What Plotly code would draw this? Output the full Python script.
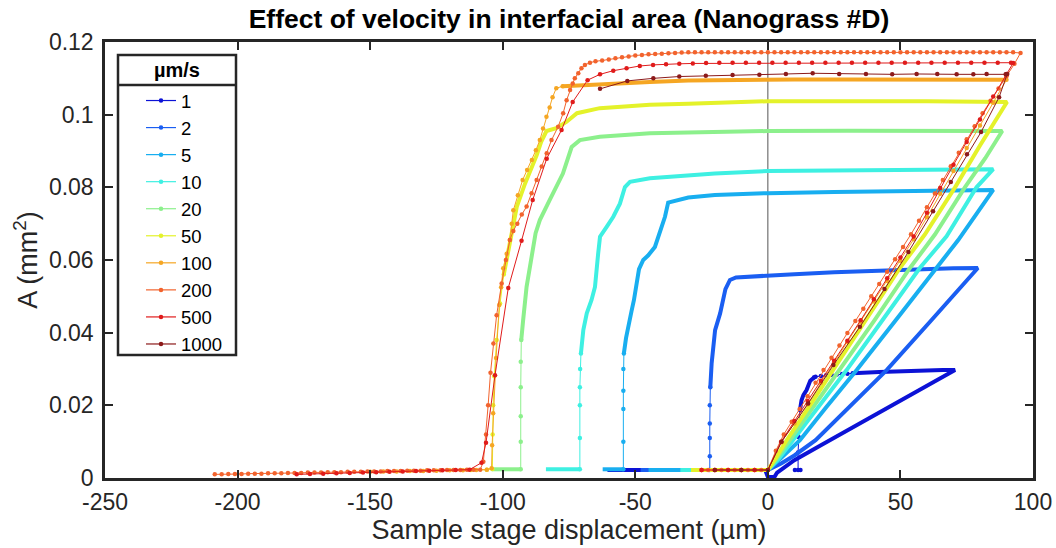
import plotly.graph_objects as go

FONT = "Liberation Sans, Arial, sans-serif"
INK = "#262626"

speed_labels = ["1", "2", "5", "10", "20", "50", "100", "200", "500", "1000"]
colors = ["#0c12d6", "#1a5ef2", "#18aef0", "#3ef0e2", "#8cf08c",
          "#e4f22a", "#f5a623", "#f2632d", "#e01b1b", "#8c1a1a"]

# ---- 1 um/s ----
x1_dense = [-60.5, -45, -30, -15, -1, 0, 2.5, 3.5, 10, 20, 30, 40, 50, 60, 70.6, 66, 58, 50, 42, 34, 32,
            None, 17.5, 16, 14.6, 13.4, 12.7, 12.1]
y1_dense = [0.0022, 0.0022, 0.0022, 0.0022, 0.0022, 0.0003, 0.0003, 0.0015, 0.0049, 0.0090, 0.0131, 0.0172,
            0.0213, 0.0254, 0.0297, 0.0297, 0.0296, 0.0294, 0.0292, 0.0289, 0.0288,
            None, 0.0277, 0.0268, 0.0242, 0.0228, 0.0214, 0.0187]
x1_sparse = [32, 30, 28, 26, 24, 22, 20, 18, 17.5, None, 12.1, 11.6, 11.4, 11.4, 10.2, 12.3]
y1_sparse = [0.0288, 0.0287, 0.0286, 0.0285, 0.0284, 0.0283, 0.0281, 0.0279, 0.0277, None,
             0.0187, 0.0113, 0.0070, 0.0022, 0.0022, 0.0022]

# ---- 2 um/s ----
x2_dense = [-48, -35, -20, -10, 0, 5, 10, 18, 30, 44.8, 62, 79.2, 70, 55, 40, 25, 10, 0, -8, -12,
            -14.3, -16, -18, -19.9, -21.2, -21.7]
y2_dense = [0.0022, 0.0022, 0.0022, 0.0022, 0.0022, 0.0040, 0.0062, 0.0104, 0.0190, 0.0297, 0.0437, 0.0578,
            0.0577, 0.0574, 0.0570, 0.0566, 0.0561, 0.0558, 0.0555, 0.0552,
            0.0545, 0.0520, 0.0453, 0.0407, 0.0316, 0.0250]
x2_sparse = [-21.7, -21.9, -21.9, -21.9, -21.9, -21.9]
y2_sparse = [0.0250, 0.0200, 0.0150, 0.0110, 0.0060, 0.0022]

# ---- 5 um/s ----
x5_dense = [-45, -30, -15, 0, 5, 12.1, 22, 33.5, 48, 63.7, 71.8, 85, 70, 50, 25, 0, -20, -30,
            -34.4, -37.6, -38.8, -40.7, -42.6, -45.1, -47, -48.6, -49.5, -50.5, -51.4, -52.6, -53.5, -54.3,
            None, -54.5, -58, -62.3]
y5_dense = [0.0022, 0.0022, 0.0022, 0.0022, 0.0055, 0.0104, 0.0195, 0.0297, 0.0432, 0.0578, 0.0655, 0.0793,
            0.0792, 0.0790, 0.0787, 0.0784, 0.0779, 0.0772,
            0.0765, 0.0758, 0.0719, 0.0680, 0.0636, 0.0613, 0.0600, 0.0575, 0.0530, 0.0490, 0.0460, 0.0420,
            0.0385, 0.0343, None, 0.0024, 0.0024, 0.0024]
x5_sparse = [-54.3, -54.5, -54.5, -54.5, -54.5, -54.5]
y5_sparse = [0.0343, 0.0300, 0.0240, 0.0190, 0.0100, 0.0024]

# ---- 10 um/s ----
x10_dense = [-33, -20, -10, 0, 4, 9.5, 18, 29.7, 43, 57.3, 67.4, 78.7, 85, 60, 30, 0, -20, -35, -44.5,
             -52, -53.9, -55.8, -58.3, -60.8, -63.3, -64, -65.2, -66.5, -68.3, -69.6, -70.5,
             None, -70.9, -77, -83.7]
y10_dense = [0.0022, 0.0022, 0.0022, 0.0022, 0.0052, 0.0104, 0.0185, 0.0297, 0.0432, 0.0578, 0.0665, 0.0800,
             0.0850, 0.0848, 0.0847, 0.0845, 0.0838, 0.0830, 0.0825,
             0.0815, 0.0801, 0.0755, 0.0719, 0.0691, 0.0664, 0.0618, 0.0526, 0.0490, 0.0453, 0.0407, 0.0343,
             None, 0.0024, 0.0024, 0.0024]
x10_sparse = [-70.5, -70.8, -70.9, -70.9, -70.9, -70.9]
y10_sparse = [0.0343, 0.0300, 0.0250, 0.0200, 0.0110, 0.0024]

# ---- 20 um/s ----
x20_dense = [-28, -15, 0, 3.5, 8.3, 17, 27.2, 40, 53.6, 63, 74.3, 82, 88.4, 60, 30, 0, -20, -44.5, -63.4,
             -70.9, -74, -77.3, -82.3, -86, -87.6, -89.7, -91, -92.3, -93.0,
             None, -93.2, -98, -104.2]
y20_dense = [0.0022, 0.0022, 0.0022, 0.0055, 0.0104, 0.0195, 0.0297, 0.0432, 0.0578, 0.0670, 0.0800, 0.0880,
             0.0955, 0.0956, 0.0956, 0.0955, 0.0953, 0.0949, 0.0939,
             0.0930, 0.0911, 0.0838, 0.0765, 0.0710, 0.0674, 0.0591, 0.0526, 0.0434, 0.0380,
             None, 0.0024, 0.0024, 0.0024]
x20_sparse = [-93.0, -93.2, -93.2, -93.2, -93.2, -93.2]
y20_sparse = [0.0380, 0.0320, 0.0250, 0.0170, 0.0100, 0.0024]

# ---- 50 um/s ----
x50_dense = [-29, -15, 0, 3, 7.1, 15, 24.6, 37, 49.8, 59.2, 70.6, 80, 90.2, 60, 30, 0, -30, -44.5, -63.4,
             -72, -76, -79.8, -83.5, -85.5, -87.2, -89.1, -91.6, -94.7, -96.5, -98, -99.6]
y50_dense = [0.0022, 0.0022, 0.0022, 0.0055, 0.0104, 0.0190, 0.0297, 0.0435, 0.0578, 0.0670, 0.0800, 0.0915,
             0.1035, 0.1037, 0.1037, 0.1037, 0.1030, 0.1027, 0.1018,
             0.1004, 0.0980, 0.0963, 0.0955, 0.0925, 0.0888, 0.0856, 0.0810, 0.0746, 0.0680, 0.0620, 0.0560]
x50_sparse = [-99.6, -101, -102.3, -103.2, -103.6, -103.8, -103.9, -106, -112]
y50_sparse = [0.0560, 0.0480, 0.0380, 0.0280, 0.0200, 0.0120, 0.0025, 0.0023, 0.0022]

# ---- 100 um/s ----
x100_dense = [90, 70, 50, 30, 10, -10, -30, -44.5, -60, -70, -77.4]
y100_dense = [0.1096, 0.1097, 0.1097, 0.1097, 0.1097, 0.1096, 0.1094, 0.1090, 0.1085, 0.1082, 0.1078]
x100_sparse = [-25, -20, -15, -10, -5, 0, 5, 10, 15, 20, 25, 30, 35, 40, 45, 50, 55, 60, 65, 70, 75, 80, 85, 90,
               None,
               -77.4, -79.8, -81.2, -82.3, -83.5, -84.8, -86, -87.5, -89, -90.8, -92.5, -94.3, -96, -96.6,
               -97.3, -98.5, -99.8, -100.6, -101.3, -102.5, -103.6, -104, -104.2,
               -106, -110, -115, -120, -125, -130, -135, -140, -145, -150]
y100_sparse = [0.0022, 0.0022, 0.0022, 0.0022, 0.0022, 0.0022, 0.0098, 0.0150, 0.0203, 0.0262, 0.0318,
               0.0374, 0.0430, 0.0486, 0.0542, 0.0598, 0.0657, 0.0718, 0.0782, 0.0845, 0.0908, 0.0970,
               0.1033, 0.1096,
               None,
               0.1078, 0.1073, 0.1048, 0.1020, 0.0994, 0.0962, 0.0930, 0.0902, 0.0875, 0.0848, 0.0820,
               0.0778, 0.0737, 0.0700, 0.0655, 0.0617, 0.0577, 0.0525, 0.0476, 0.0330, 0.0178, 0.0090,
               0.0027,
               0.0023, 0.0022, 0.0021, 0.0021, 0.0020, 0.0019, 0.0019, 0.0018, 0.0018, 0.0017]

# ---- 200 um/s ----
x200_rise = [-25, -22.5, -20, -17.5, -15, -12.5, -10, -7.5, -5, -2.5, 0, 3, 6, 9, 12, 15, 18, 21, 24, 27,
             30, 33, 36, 39, 42, 45, 48, 51, 54, 57, 60, 63, 66, 69, 72, 75, 78, 81, 84, 87, 90, 93, 95.3]
y200_rise = [0.0022, 0.0022, 0.0022, 0.0022, 0.0022, 0.0022, 0.0022, 0.0022, 0.0022, 0.0022, 0.0022,
             0.0075, 0.0120, 0.0155, 0.0190, 0.0225, 0.0262, 0.0297, 0.0331, 0.0365, 0.0399, 0.0432,
             0.0466, 0.0500, 0.0534, 0.0568, 0.0602, 0.0636, 0.0671, 0.0708, 0.0745, 0.0783, 0.0820,
             0.0858, 0.0895, 0.0932, 0.0968, 0.1004, 0.1038, 0.1072, 0.1106, 0.1140, 0.1170]
x200_top = [92.5, 90, 87.5, 85, 82.5, 80, 77.5, 75, 72.5, 70, 67.5, 65, 62.5, 60, 57.5, 55, 52.5, 50,
            47.5, 45, 42.5, 40, 37.5, 35, 32.5, 30, 27.5, 25, 22.5, 20, 17.5, 15, 12.5, 10, 7.5, 5, 2.5, 0,
            -2.5, -5, -7.5, -10, -12.5, -15, -17.5, -20, -22.5, -25, -27.5, -30,
            -32.5, -35, -37.5, -40, -42.5, -45, -47.5, -50, -52.5, -55, -57.5]
y200_top = [0.1172, 0.1172, 0.1172, 0.1172, 0.1172, 0.1172, 0.1172, 0.1172, 0.1172, 0.1172,
            0.1172, 0.1172, 0.1172, 0.1172, 0.1172, 0.1172, 0.1172, 0.1172, 0.1172, 0.1172,
            0.1172, 0.1172, 0.1172, 0.1172, 0.1172, 0.1172, 0.1172, 0.1172, 0.1172, 0.1172,
            0.1172, 0.1172, 0.1172, 0.1172, 0.1172, 0.1172, 0.1172, 0.1172, 0.1172, 0.1172,
            0.1172, 0.1172, 0.1172, 0.1172, 0.1172, 0.1172, 0.1172, 0.1172, 0.1172, 0.1172,
            0.1171, 0.1170, 0.1169, 0.1168, 0.1167, 0.1166, 0.1164, 0.1163, 0.1160, 0.1158, 0.1155]
x200_fall = [-60, -62.5, -65, -67.1, -69, -70.3, -71.5, -72.8, -73.6, -74.6, -75.9, -77.2, -79.1, -81.6,
             -83.4, -85.3, -87.2, -89.1, -91, -92.8, -94.5, -96, -97.3, -98.8, -100.4, -102.3, -103.5,
             -104.6, -105.5, -106.3, -107.3, -108.5]
y200_fall = [0.1152, 0.1149, 0.1147, 0.1143, 0.1137, 0.1128, 0.1114, 0.1100, 0.1086, 0.1068, 0.1040,
             0.1004, 0.0967, 0.0930, 0.0894, 0.0857, 0.0820, 0.0784, 0.0747, 0.0725, 0.0700, 0.0680,
             0.0655, 0.0600, 0.0535, 0.0448, 0.0370, 0.0290, 0.0200, 0.0120, 0.0045, 0.0023]
x200_base = [-111, -113.5, -116, -118.5, -121, -123.5, -126, -128.5, -131, -133.5, -136, -138.5, -141,
             -143.5, -146, -148.5, -151, -153.5, -156, -158.5, -161, -163.5, -166, -168.5, -171, -173.5,
             -176, -178.5, -181, -183.5, -186, -188.5, -191, -193.5, -196, -198.5, -201, -203.5, -206, -208.6]
y200_base = [0.0023, 0.0023, 0.0022, 0.0022, 0.0022, 0.0021, 0.0021, 0.0021, 0.0020, 0.0020,
             0.0020, 0.0019, 0.0019, 0.0019, 0.0018, 0.0018, 0.0018, 0.0017, 0.0017, 0.0017,
             0.0016, 0.0016, 0.0016, 0.0015, 0.0015, 0.0015, 0.0014, 0.0014, 0.0014, 0.0013,
             0.0013, 0.0013, 0.0012, 0.0012, 0.0012, 0.0011, 0.0011, 0.0011, 0.0010, 0.0010]

# ---- 500 um/s ----
x500_rise = [-25, -20, -15, -10, -5, 0, 5, 10, 15, 20, 25, 30, 35, 40, 45, 50, 55, 60, 65, 70, 75, 80, 85,
             90, 92.5]
y500_rise = [0.0022, 0.0022, 0.0022, 0.0022, 0.0022, 0.0022, 0.0100, 0.0157, 0.0212, 0.0268, 0.0323,
             0.0378, 0.0434, 0.0492, 0.0550, 0.0607, 0.0665, 0.0730, 0.0798, 0.0862, 0.0925, 0.0987,
             0.1050, 0.1112, 0.1142]
x500_top = [91.7, 86.7, 81.7, 76.7, 71.7, 66.7, 61.7, 56.7, 51.7, 46.7, 41.7, 36.7, 31.7, 26.7, 21.7,
            16.7, 11.7, 6.7, 1.7, -3.3, -8.3, -13.3, -18.3, -23.3, -28.3, -33.4, -38.4, -43.3, -48.3,
            -53.3, -58.3]
y500_top = [0.1143, 0.1143, 0.1143, 0.1143, 0.1143, 0.1143, 0.1143, 0.1143, 0.1143, 0.1143,
            0.1143, 0.1143, 0.1143, 0.1143, 0.1143, 0.1143, 0.1143, 0.1143, 0.1143, 0.1143,
            0.1143, 0.1143, 0.1143, 0.1142, 0.1141, 0.1140, 0.1139, 0.1137, 0.1134, 0.1128, 0.1121]
x500_fall = [-63.3, -68, -73.6, -77.8, -83.4, -88.7, -92.9, -97.9, -102.9, -106.3, -108, -112.5]
y500_fall = [0.1111, 0.1095, 0.1035, 0.0958, 0.0879, 0.0765, 0.0653, 0.0523, 0.0283, 0.0097, 0.0042, 0.0023]
x500_base = [-117.7, -122.7, -127.7, -132.7, -137.7, -142.7, -147.7, -152.7, -157.7, -162.7, -167.7,
             -172.7, -177.7]
y500_base = [0.0022, 0.0021, 0.0020, 0.0019, 0.0018, 0.0017, 0.0016, 0.0015, 0.0014, 0.0013, 0.0012,
             0.0011, 0.0010]

# ---- 1000 um/s ----
x1000_rise = [-20, -10, 0, 5.2, 15.2, 24.7, 34.7, 44, 53, 62.3, 69, 75.1, 80.4, 87.2, 90.3]
y1000_rise = [0.0022, 0.0022, 0.0022, 0.0100, 0.0205, 0.0311, 0.0416, 0.0520, 0.0622, 0.0734, 0.0815,
              0.0891, 0.0952, 0.1048, 0.1112]
x1000_top = [89.7, 82.5, 77.5, 71.2, 63.9, 56.1, 46.9, 37, 26.9, 16.9, 6.8, -3.2, -13.3, -23.4, -33.4,
             -43.2, -53, -63.3]
y1000_top = [0.1111, 0.1112, 0.1111, 0.1111, 0.1112, 0.1112, 0.1111, 0.1112, 0.1112, 0.1114, 0.1112,
             0.1110, 0.1109, 0.1107, 0.1105, 0.1100, 0.1093, 0.1071]

x_ticks = [-250, -200, -150, -100, -50, 0, 50, 100]
x_tick_text = ["-250", "-200", "-150", "-100", "-50", "0", "50", "100"]
y_ticks = [0, 0.02, 0.04, 0.06, 0.08, 0.1, 0.12]
y_tick_text = ["0", "0.02", "0.04", "0.06", "0.08", "0.1", "0.12"]

curves = [
    (x1_dense, y1_dense, x1_sparse, y1_sparse),
    (x2_dense, y2_dense, x2_sparse, y2_sparse),
    (x5_dense, y5_dense, x5_sparse, y5_sparse),
    (x10_dense, y10_dense, x10_sparse, y10_sparse),
    (x20_dense, y20_dense, x20_sparse, y20_sparse),
    (x50_dense, y50_dense, x50_sparse, y50_sparse),
    (x100_dense, y100_dense, x100_sparse, y100_sparse),
    (None, None, x200_rise + x200_top + x200_fall + x200_base,
     y200_rise + y200_top + y200_fall + y200_base),
    (None, None, x500_rise + x500_top + x500_fall + x500_base,
     y500_rise + y500_top + y500_fall + y500_base),
    (None, None, x1000_rise + x1000_top, y1000_rise + y1000_top),
]

fig = go.Figure()

for i, (dx, dy, sx, sy) in enumerate(curves):
    c = colors[i]
    if sx is not None:
        fig.add_trace(go.Scatter(x=sx, y=sy, mode="lines+markers",
                                 line=dict(color=c, width=1),
                                 marker=dict(color=c, size=4.5),
                                 showlegend=False, hoverinfo="skip"))
    if dx is not None:
        fig.add_trace(go.Scatter(x=dx, y=dy, mode="lines",
                                 line=dict(color=c, width=4),
                                 showlegend=False, hoverinfo="skip"))

for lab, c in zip(speed_labels, colors):
    fig.add_trace(go.Scatter(x=[None], y=[None], mode="lines+markers", name=lab,
                             line=dict(color=c, width=1.2), marker=dict(color=c, size=4.5)))

# pixel helpers for paper coordinates (plot area 105..1033 x 42..478)
def px(xp):
    return (xp - 105) / 928.0

def py(yp):
    return (478 - yp) / 436.0

shapes = [
    dict(type="line", xref="x", yref="paper", x0=0, x1=0, y0=0, y1=1,
         line=dict(color="#555555", width=1), layer="below"),
    dict(type="rect", xref="paper", yref="paper", x0=px(118), x1=px(236), y0=py(355), y1=py(55),
         line=dict(color=INK, width=2.5), fillcolor="white", layer="above"),
    dict(type="line", xref="paper", yref="paper", x0=px(118), x1=px(236), y0=py(85), y1=py(85),
         line=dict(color=INK, width=2.5), layer="above"),
]

fig.update_layout(
    width=1056, height=548,
    margin=dict(l=105, r=23, t=42, b=70, autoexpand=False),
    paper_bgcolor="white", plot_bgcolor="white",
    font=dict(family=FONT, color=INK),
    title=dict(text="<b>Effect of velocity in interfacial area (Nanograss #D)</b>",
               font=dict(family=FONT, size=26.5, color="#000000"),
               x=0.5, xref="paper", xanchor="center",
               y=1 - 19 / 548, yref="container", yanchor="middle"),
    shapes=shapes,
    annotations=[dict(text="<b>µm/s</b>", xref="paper", yref="paper", x=px(177), y=py(70),
                      showarrow=False, font=dict(family=FONT, size=20, color="#000000"),
                      xanchor="center", yanchor="middle")],
    legend=dict(x=px(141), y=py(82), xanchor="left", yanchor="top",
                bgcolor="rgba(0,0,0,0)", borderwidth=0, tracegroupgap=0,
                font=dict(family=FONT, size=18.5, color="#000000")),
    showlegend=True,
)

fig.update_xaxes(range=[-250, 100], tickmode="array", tickvals=x_ticks, ticktext=x_tick_text,
                 ticks="inside", ticklen=8, tickwidth=2, tickcolor=INK,
                 showline=True, linewidth=2.5, linecolor=INK, mirror="allticks",
                 showgrid=False, zeroline=False, automargin=False,
                 tickfont=dict(family=FONT, size=23, color=INK), ticklabelstandoff=2,
                 title=dict(text="Sample stage displacement (µm)",
                            font=dict(family=FONT, size=27, color=INK), standoff=6))
fig.update_yaxes(range=[0, 0.12], tickmode="array", tickvals=y_ticks, ticktext=y_tick_text,
                 ticks="inside", ticklen=8, tickwidth=2, tickcolor=INK,
                 showline=True, linewidth=2.5, linecolor=INK, mirror="allticks",
                 showgrid=False, zeroline=False, automargin=False,
                 tickfont=dict(family=FONT, size=23, color=INK), ticklabelstandoff=4,
                 title=dict(text="A (mm<sup>2</sup>)",
                            font=dict(family=FONT, size=27, color=INK), standoff=4))

fig.write_html("out.html")
